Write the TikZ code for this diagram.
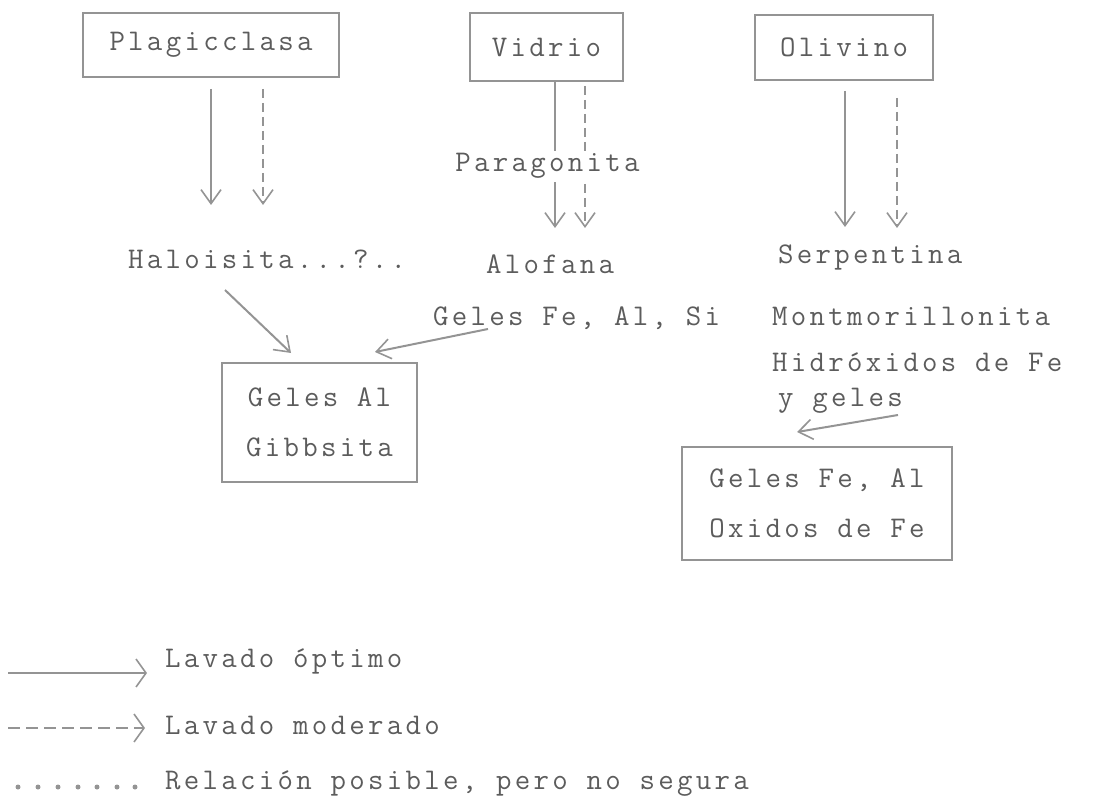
\documentclass[tikz,border=0pt]{standalone}
\usepackage{fontspec}
\newfontfamily\tw{Latin Modern Mono}[LetterSpace=11]
\usetikzlibrary{arrows.meta}
\definecolor{ink}{gray}{0.36}
\definecolor{rulec}{gray}{0.58}
\tikzset{
  txt/.style={font=\tw\fontsize{30pt}{50pt}\selectfont, text=ink, inner sep=0pt},
  boxnode/.style={txt, draw=rulec, line width=2pt, align=center},
  arr/.style={draw=rulec, line width=2pt, -{Straight Barb[length=14pt,width=20pt,line width=1.6pt]}},
  darr/.style={arr, dash pattern=on 9pt off 5pt},
  legarr/.style={draw=rulec, line width=2pt, -{Straight Barb[length=10pt,width=28pt,line width=1.6pt]}},
  legdarr/.style={legarr, dash pattern=on 12pt off 6pt},
  dotmark/.style={circle, fill=rulec, inner sep=0pt, minimum size=5pt},
}
\begin{document}
\begin{tikzpicture}[x=1pt,y=-1pt]
\useasboundingbox (0,0) rectangle (1094,799);

% top boxes
\node[boxnode, minimum width=256pt, minimum height=64pt] (plag) at (211,45) {Plagicclasa};
\node[boxnode, minimum width=153pt, minimum height=68pt] (vid) at (546.5,47) {Vidrio};
\node[boxnode, minimum width=178pt, minimum height=65pt] (oliv) at (844,47.5) {Olivino};

% second row texts
\node[txt, anchor=base west] (halo) at (128,269) {Haloisita...?..};
\node[txt, anchor=base] (alof) at (550,274) {Alofana};
\node[txt, anchor=base west] (serp) at (778,264) {Serpentina};

% arrows from top boxes
\draw[arr]  (plag.south) ++(0,11) coordinate (p1) -- (p1 |- 0,205);
\draw[darr] ([xshift=52pt]plag.south) ++(0,11) coordinate (p2) -- (p2 |- 0,205);
\draw[arr]  ([xshift=8.5pt]vid.south) coordinate (v1) -- (v1 |- 0,228);
\draw[darr] ([xshift=38.5pt]vid.south) ++(0,4) coordinate (v2) -- (v2 |- 0,228);
\draw[arr]  ([xshift=1pt]oliv.south) ++(0,10) coordinate (o1) -- (o1 |- 0,227);
\draw[darr] ([xshift=53pt]oliv.south) ++(0,17) coordinate (o2) -- (o2 |- 0,228);

\node[txt, anchor=base, fill=white, inner sep=3pt] (parag) at (547.5,172) {Paragonita};

% third row texts
\node[txt, anchor=base west] (gfe) at (433,325) {Geles Fe, Al, Si};
\node[txt, anchor=base west] (mont) at (772,325) {Montmorillonita};
\node[txt, anchor=base west] (hidr) at (772,371) {Hidróxidos de Fe};
\node[txt, anchor=base west] (ygel) at (778,406) {y geles};

% bottom boxes
\node[boxnode, minimum width=195pt, minimum height=119pt] (gibb) at (319.5,422.5) {Geles Al\\Gibbsita};
\node[boxnode, minimum width=270pt, minimum height=113pt] (oxid) at (817,503.5) {Geles Fe, Al\\Oxidos de Fe};

% diagonal arrows
\coordinate (h1) at (225,290);
\coordinate (h2) at (291,353);
\draw[arr] (h1) -- (h2);
\coordinate (g1) at (488,329);
\coordinate (g2) at (375,352);
\draw[arr] (g1) -- (g2);
\coordinate (y1) at (898,415);
\coordinate (y2) at (797,432);
\draw[arr] (y1) -- (y2);

% legend
\coordinate (l1a) at (8,673);
\coordinate (l1b) at (147,673);
\draw[legarr] (l1a) -- (l1b);
\node[txt, anchor=base west] (lopt) at (165,667) {Lavado óptimo};
\coordinate (l2a) at (8,728);
\coordinate (l2b) at (145,728);
\draw[legdarr] (l2a) -- (l2b);
\node[txt, anchor=base west] (lmod) at (165,734) {Lavado moderado};
\foreach \i/\xx in {1/18,2/38,3/58,4/78,5/97,6/117,7/135}
  \node[dotmark] (d\i) at (\xx,787) {};
\node[txt, anchor=base west] (lrel) at (165,789) {Relación posible, pero no segura};
\end{tikzpicture}
\end{document}
